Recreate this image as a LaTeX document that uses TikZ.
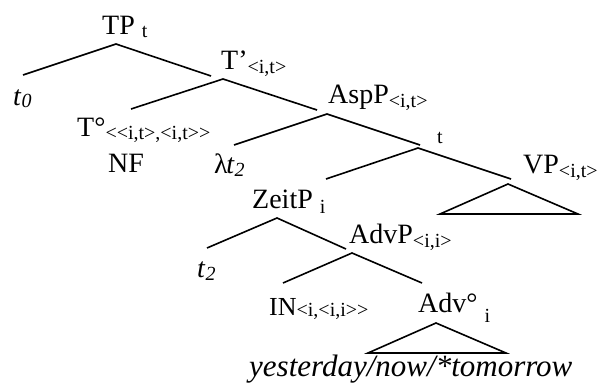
\documentclass[tikz,border=0pt]{standalone}
\usepackage{fontspec}
\setmainfont{Liberation Serif}[Ligatures=TeXOff]
\usetikzlibrary{positioning}

% lowered small type for the semantic types
\newcommand{\tysub}[2][4pt]{\raisebox{-#1}{\fontsize{20}{20}\selectfont #2}}

\tikzset{
  lbl/.style={anchor=base west, inner sep=0pt, font=\fontsize{28}{28}\selectfont},
  branch/.style={line width=1.6pt},
}

\begin{document}
\begin{tikzpicture}[x=1pt, y=-1pt]
  \useasboundingbox (0,0) rectangle (605,385);

  % labels
  \node[lbl] (tp) at (102,35) {TP \tysub[3pt]{t}};
  \node[lbl] (tbar) at (221,70) {T’\tysub{<i,t>}};
  \node[lbl] (asp) at (328,104) {AspP\tysub{<i,t>}};
  \node[lbl, font=\fontsize{20}{20}\selectfont] (tlab) at (437,143) {t};
  \node[lbl] (vp) at (523,173) {VP\tysub{<i,t>}};
  \node[lbl] (tdeg) at (77,137) {T°\tysub[3pt]{<<i,t>,<i,t>>}};
  \node[lbl] (nf) at (108,172) {NF};
  \node[lbl] (lam) at (214,173) {λ\kern-1.5pt\textit{t}\tysub[3pt]{\itshape 2}};
  \node[lbl] (zeit) at (252,208) {ZeitP \tysub[5pt]{i}};
  \node[lbl] (advp) at (349,243) {AdvP\tysub{<i,i>}};
  \node[lbl] (ttwo) at (197,277) {\textit{t}\tysub[3pt]{\itshape 2}};
  \node[lbl] (tzero) at (13,106) {\textit{t}\tysub[2pt]{\itshape 0}};
  \node[lbl, font=\fontsize{26}{26}\selectfont] (in) at (269,315) {IN\tysub[1pt]{<i,<i,i>>}};
  \node[lbl] (adv) at (418,312) {Adv° \tysub[10pt]{i}};
  \node[lbl, font=\fontsize{31}{31}\selectfont\itshape] (words) at (249,376) {yesterday/now/*tomorrow};

  % branching points and branch ends
  \coordinate (tp-top) at (116,44);
  \coordinate (tp-l) at (23,75);
  \coordinate (tp-r) at (211,76);
  \coordinate (tbar-top) at (223,79);
  \coordinate (tbar-l) at (131,109);
  \coordinate (tbar-r) at (317,110);
  \coordinate (asp-top) at (327,114);
  \coordinate (asp-l) at (234,145);
  \coordinate (asp-r) at (420,145);
  \coordinate (t-top) at (418,148);
  \coordinate (t-l) at (326,179);
  \coordinate (t-r) at (511,179);
  \coordinate (zeit-top) at (277,218);
  \coordinate (zeit-l) at (207,248);
  \coordinate (zeit-r) at (346,249);
  \coordinate (advp-top) at (352,253);
  \coordinate (advp-l) at (283,283);
  \coordinate (advp-r) at (422,283);
  \coordinate (vp-top) at (508,184);
  \coordinate (vp-bl) at (440,214);
  \coordinate (vp-br) at (578,214);
  \coordinate (adv-top) at (436,323);
  \coordinate (adv-bl) at (368,353);
  \coordinate (adv-br) at (506,353);

  % branches
  \draw[branch] (tp-l) -- (tp-top) -- (tp-r);
  \draw[branch] (tbar-l) -- (tbar-top) -- (tbar-r);
  \draw[branch] (asp-l) -- (asp-top) -- (asp-r);
  \draw[branch] (t-l) -- (t-top) -- (t-r);
  \draw[branch] (zeit-l) -- (zeit-top) -- (zeit-r);
  \draw[branch] (advp-l) -- (advp-top) -- (advp-r);

  % roofs
  \draw[branch] (vp-top) -- (vp-br) -- (vp-bl) -- cycle;
  \draw[branch] (adv-top) -- (adv-br) -- (adv-bl) -- cycle;
\end{tikzpicture}
\end{document}
